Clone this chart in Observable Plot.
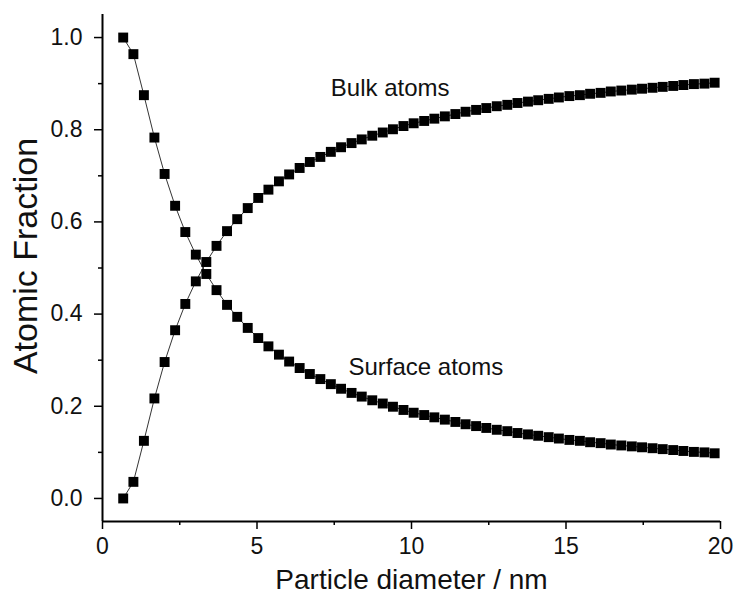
<!DOCTYPE html>
<html>
<head>
<meta charset="utf-8">
<script src="https://cdn.jsdelivr.net/npm/d3@7"></script>
<script src="https://cdn.jsdelivr.net/npm/@observablehq/plot@0.6"></script>
<style>
  html, body { margin: 0; padding: 0; background: #fff; }
  #chart { width: 734px; height: 603px; }
</style>
</head>
<body>
<div id="chart"></div>
<script>
const diameter = [0.67,1.00,1.34,1.68,2.01,2.35,2.68,3.02,3.36,3.69,
  4.03,4.36,4.70,5.04,5.37,5.71,6.04,6.38,6.71,7.05,
  7.39,7.72,8.06,8.39,8.73,9.07,9.40,9.74,10.07,10.41,
  10.74,11.08,11.42,11.75,12.09,12.42,12.76,13.10,13.43,13.77,
  14.10,14.44,14.77,15.11,15.45,15.78,16.12,16.45,16.79,17.13,
  17.46,17.80,18.13,18.47,18.80,19.14,19.48,19.81];
const surfaceFraction = [1.000,0.964,0.875,0.783,0.704,0.635,0.578,0.529,0.487,0.452,
  0.420,0.394,0.370,0.348,0.330,0.312,0.297,0.283,0.270,0.259,
  0.248,0.238,0.229,0.221,0.213,0.206,0.199,0.192,0.186,0.181,
  0.176,0.171,0.166,0.161,0.157,0.153,0.149,0.146,0.142,0.139,
  0.136,0.133,0.130,0.127,0.125,0.122,0.120,0.117,0.115,0.113,
  0.111,0.109,0.107,0.105,0.103,0.101,0.100,0.098];
const bulkFraction = [0.000,0.036,0.125,0.217,0.296,0.365,0.422,0.471,0.513,0.548,
  0.580,0.606,0.630,0.652,0.670,0.688,0.703,0.717,0.730,0.741,
  0.752,0.762,0.771,0.779,0.787,0.794,0.801,0.808,0.814,0.819,
  0.824,0.829,0.834,0.839,0.843,0.847,0.851,0.854,0.858,0.861,
  0.864,0.867,0.870,0.873,0.875,0.878,0.880,0.883,0.885,0.887,
  0.889,0.891,0.893,0.895,0.897,0.899,0.900,0.902];
const xTicks = [0, 5, 10, 15, 20];
const xMinorTicks = [2.5, 7.5, 12.5, 17.5];
const yTicks = [0, 0.2, 0.4, 0.6, 0.8, 1.0];
const yMinorTicks = [0.1, 0.3, 0.5, 0.7, 0.9];
const seriesLabels = ["Bulk atoms", "Surface atoms"];
const labelX = [7.39, 7.96];
const labelY = [0.889, 0.285];
const xTitle = "Particle diameter / nm";
const yTitle = "Atomic Fraction";

const surfaceRows = diameter.map((d, i) => ({d, f: surfaceFraction[i], s: "surface"}));
const bulkRows = diameter.map((d, i) => ({d, f: bulkFraction[i], s: "bulk"}));
const labels = seriesLabels.map((t, i) => ({t, x: labelX[i], y: labelY[i]}));
const fmtY = d3.format(".1f");

const font = "'Liberation Sans', Arial, sans-serif";

const chart = Plot.plot({
  width: 734,
  height: 603,
  marginLeft: 102,
  marginRight: 14,
  marginTop: 14,
  marginBottom: 82,
  x: {domain: [0, 20], label: null},
  y: {domain: [-0.05, 1.05], label: null},
  style: {fontFamily: font, background: "white", color: "black"},
  marks: [
    Plot.line(surfaceRows, {x: "d", y: "f", stroke: "black", strokeWidth: 0.8}),
    Plot.line(bulkRows, {x: "d", y: "f", stroke: "black", strokeWidth: 0.8}),
    Plot.dot(surfaceRows.concat(bulkRows), {x: "d", y: "f", symbol: "square", r: 5.6, fill: "black", stroke: null}),
    Plot.axisY(yMinorTicks, {tickSize: 4, tickFormat: () => "", label: null, strokeWidth: 1.5}),
    Plot.axisY(yTicks, {tickSize: 8, tickFormat: () => "", label: null, strokeWidth: 1.5}),
    Plot.axisX(xMinorTicks, {tickSize: 4, tickFormat: () => "", label: null, strokeWidth: 1.5}),
    Plot.axisX(xTicks, {tickSize: 8, tickFormat: () => "", label: null, strokeWidth: 1.5}),
    Plot.text(yTicks, {y: d => d, text: d => fmtY(d), frameAnchor: "left", textAnchor: "end", lineAnchor: "middle", dx: -20, fontSize: 23, fill: "#111"}),
    Plot.text(xTicks, {x: d => d, text: d => String(d), frameAnchor: "bottom", textAnchor: "middle", lineAnchor: "middle", dy: 25, fontSize: 23, fill: "#111"}),
    Plot.ruleX([0], {stroke: "black", strokeWidth: 2}),
    Plot.ruleY([-0.05], {stroke: "black", strokeWidth: 2}),
    Plot.text(labels, {x: "x", y: "y", text: "t", textAnchor: "start", fontSize: 24, fill: "#111"}),
    Plot.text([xTitle], {text: d => d, frameAnchor: "bottom", textAnchor: "middle", lineAnchor: "middle", dy: 59, fontSize: 28, fill: "#111"}),
    Plot.text([yTitle], {text: d => d, frameAnchor: "left", textAnchor: "middle", lineAnchor: "middle", dx: -76, dy: -12, rotate: -90, fontSize: 34, fill: "#111"})
  ]
});
document.getElementById("chart").appendChild(chart);
</script>
</body>
</html>
